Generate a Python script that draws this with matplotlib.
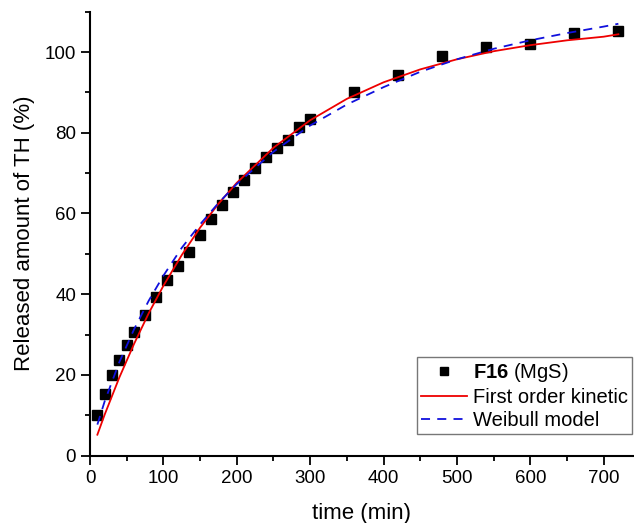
import matplotlib.pyplot as plt
from matplotlib.ticker import MultipleLocator

plt.rcParams['font.family'] = ['Liberation Sans', 'DejaVu Sans']
plt.rcParams['mathtext.fontset'] = 'custom'
plt.rcParams['mathtext.bf'] = 'Liberation Sans:bold'
plt.rcParams['mathtext.rm'] = 'Liberation Sans'

# Datos experimentales (F16, MgS)
t_exp = [10, 20, 30, 40, 50, 60, 75, 90, 105, 120, 135, 150, 165, 180, 195,
         210, 225, 240, 255, 270, 285, 300, 360, 420, 480, 540, 600, 660, 720]
q_exp = [10.1, 15.2, 19.9, 23.8, 27.3, 30.7, 34.8, 39.3, 43.5, 47.1, 50.4,
         54.6, 58.6, 62.0, 65.3, 68.2, 71.2, 73.9, 76.3, 78.1, 81.5, 83.5,
         90.1, 94.4, 98.9, 101.2, 102.1, 104.6, 105.1]

# Curvas de ajuste
t_fit = [10, 20, 40, 60, 80, 100, 125, 150, 175, 200, 250, 300, 350, 400,
         450, 500, 550, 600, 650, 700, 720]
q_first = [5.2, 10.2, 19.4, 27.7, 35.3, 42.1, 49.7, 56.5, 62.4, 67.6, 76.3,
           83.1, 88.4, 92.5, 95.7, 98.2, 100.2, 101.7, 102.9, 103.8, 104.4]
q_weibull = [7.7, 13.5, 23.2, 31.3, 38.4, 44.6, 51.5, 57.3, 62.6, 67.3, 75.3,
             81.8, 87.0, 91.3, 95.1, 98.2, 100.8, 102.9, 104.7, 106.3, 107.0]

fig = plt.figure(figsize=(6.34, 5.23), dpi=100)
ax = fig.add_axes([0.142, 0.1287, 0.8565, 0.849])

ax.plot(t_exp, q_exp, 's', color='black', markersize=7.5,
        label=r'$\mathbf{F16}$ (MgS)', zorder=2)
ax.plot(t_fit, q_first, '-', color='#ee0000', linewidth=1.3,
        label='First order kinetic', zorder=3)
ax.plot(t_fit, q_weibull, '--', color='#1010dd', linewidth=1.3,
        dashes=(5, 4), label='Weibull model', zorder=3)

ax.set_xlim(0, 740)
ax.set_ylim(0, 110)
ax.xaxis.set_major_locator(MultipleLocator(100))
ax.xaxis.set_minor_locator(MultipleLocator(50))
ax.yaxis.set_major_locator(MultipleLocator(20))
ax.yaxis.set_minor_locator(MultipleLocator(10))

for s in ['top', 'right']:
    ax.spines[s].set_visible(False)
for s in ['left', 'bottom']:
    ax.spines[s].set_linewidth(1.5)

ax.tick_params(which='major', length=6.5, width=1.3, labelsize=13.5)
ax.tick_params(which='minor', length=3.5, width=1.3)

ax.set_xlabel('time (min)', fontsize=16, labelpad=12)
ax.set_ylabel('Released amount of TH (%)', fontsize=16, labelpad=7)

leg = ax.legend(loc='lower right', bbox_to_anchor=(0.998, 0.049),
                fontsize=14.5, frameon=True, fancybox=False,
                borderaxespad=0, handlelength=2.3, handletextpad=0.3,
                borderpad=0.2, labelspacing=0.2, markerscale=0.8)
leg.get_frame().set_edgecolor('#555555')
leg.get_frame().set_linewidth(1.0)

fig.savefig('out.png', dpi=100)
